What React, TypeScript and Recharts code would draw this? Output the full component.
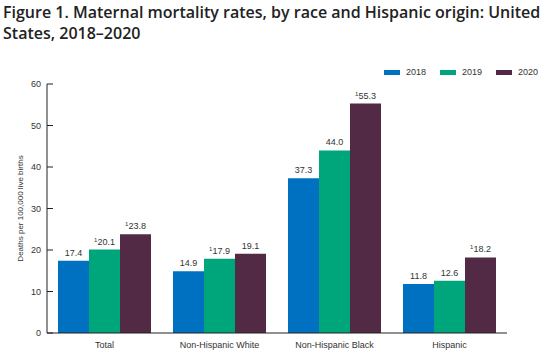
import { BarChart, Bar, XAxis, YAxis, LabelList } from 'recharts';

const groups = ['Total', 'Non-Hispanic White', 'Non-Hispanic Black', 'Hispanic'];
const rate2018 = [17.4, 14.9, 37.3, 11.8];
const rate2019 = [20.1, 17.9, 44.0, 12.6];
const rate2020 = [23.8, 19.1, 55.3, 18.2];
// footnote 1 markers shown as superscript before the value
const note2018 = [false, false, false, false];
const note2019 = [true, true, false, false];
const note2020 = [true, false, true, true];
const yTicks = [0, 10, 20, 30, 40, 50, 60];

const series = [
  { key: 'y2018', name: '2018', color: '#0070C0', notes: note2018 },
  { key: 'y2019', name: '2019', color: '#00A67B', notes: note2019 },
  { key: 'y2020', name: '2020', color: '#532A45', notes: note2020 },
];

const data = groups.map((g, i) => ({
  group: g,
  y2018: rate2018[i],
  y2019: rate2019[i],
  y2020: rate2020[i],
}));

const TEXT = '#333';
const FONT = '"Liberation Sans", Arial, sans-serif';

function makeLabel(notes: boolean[]) {
  return (props: any) => {
    const { x, y, width, value, index } = props;
    const cx = x + width / 2;
    return (
      <text x={cx} y={y - 5} textAnchor="middle" fontSize={9} fill={TEXT} fontFamily={FONT}>
        {notes[index] && (
          <tspan fontSize={6} dy={-3}>
            1
          </tspan>
        )}
        <tspan dy={notes[index] ? 3 : 0}>{Number(value).toFixed(1)}</tspan>
      </text>
    );
  };
}

function YTick(props: any) {
  const { x, y, payload } = props;
  return (
    <g>
      <text x={x} y={y} dy={3} textAnchor="end" fontSize={9} fill={TEXT} fontFamily={FONT}>
        {payload.value}
      </text>
      <line x1={x + 6} x2={x + 12} y1={y} y2={y} stroke="#222" strokeWidth={1} />
    </g>
  );
}

export default function App() {
  return (
    <div style={{ position: 'absolute', left: 0, top: 0, width: 553, height: 353, background: '#fff' }}>
      <div
        style={{
          position: 'absolute',
          left: 3,
          top: 2,
          fontFamily: '"Open Sans", sans-serif',
          fontWeight: 600,
          fontSize: 16,
          lineHeight: '21px',
          color: '#222',
          whiteSpace: 'nowrap',
        }}
      >
        Figure 1. Maternal mortality rates, by race and Hispanic origin: United
        <br />
        States, 2018–2020
      </div>
      <div
        style={{
          position: 'absolute',
          left: 384,
          top: 67,
          display: 'flex',
          gap: 14,
          fontFamily: FONT,
          fontSize: 9,
          color: TEXT,
        }}
      >
        {series.map((s) => (
          <div key={s.key} style={{ display: 'flex', alignItems: 'center' }}>
            <span style={{ width: 16, height: 5, background: s.color, display: 'inline-block', marginRight: 6 }} />
            {s.name}
          </div>
        ))}
      </div>
      <div style={{ position: 'absolute', left: 0, top: 0 }}>
        <BarChart
          width={553}
          height={353}
          data={data}
          margin={{ top: 84, right: 46, bottom: 4, left: 17 }}
          barCategoryGap={11}
          barGap={0}
        >
          <XAxis
            dataKey="group"
            tickLine={false}
            axisLine={{ stroke: '#222' }}
            height={16}
            tickMargin={3}
            tick={{ fontSize: 9, fill: TEXT, fontFamily: FONT }}
            interval={0}
          />
          <YAxis
            domain={[0, 60]}
            ticks={yTicks}
            width={30}
            tickSize={0}
            tickMargin={6}
            tickLine={false}
            axisLine={{ stroke: '#222' }}
            tick={<YTick />}
            label={{
              value: 'Deaths per 100,000 live births',
              angle: -90,
              position: 'insideLeft',
              offset: 3,
              textAnchor: 'middle',
              fontSize: 8,
              fill: TEXT,
              fontFamily: FONT,
            }}
          />
          {series.map((s) => (
            <Bar key={s.key} dataKey={s.key} name={s.name} fill={s.color} isAnimationActive={false}>
              <LabelList dataKey={s.key} content={makeLabel(s.notes)} />
            </Bar>
          ))}
        </BarChart>
      </div>
    </div>
  );
}
